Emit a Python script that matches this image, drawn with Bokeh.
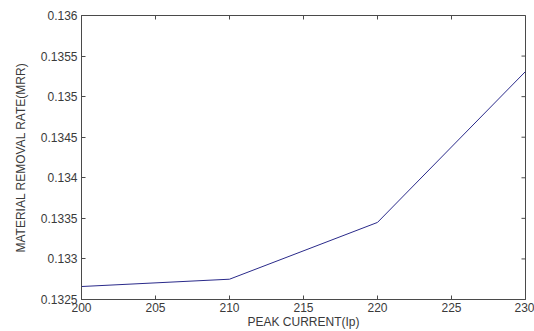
import math
from bokeh.plotting import figure
from bokeh.models import LinearAxis, FixedTicker, Range1d
from bokeh.embed import file_html
from bokeh.resources import INLINE

peak_current = [200, 210, 220, 230]
mrr = [0.13266, 0.13275, 0.13345, 0.13531]
x_ticks = [200, 205, 210, 215, 220, 225, 230]
y_ticks = [0.1325, 0.133, 0.1335, 0.134, 0.1345, 0.135, 0.1355, 0.136]
y_tick_labels = ["0.1325", "0.133", "0.1335", "0.134", "0.1345", "0.135", "0.1355", "0.136"]
x_min, x_max = 200, 230
y_min, y_max = 0.1325, 0.136

FONT = "Liberation Sans"
TXT = "#3a3a3a"
AX = "#4a4a4a"

p = figure(width=534, height=331, output_backend="svg", toolbar_location=None,
           x_range=Range1d(x_min, x_max), y_range=Range1d(y_min, y_max),
           min_border_left=81, min_border_right=9, min_border_top=15, min_border_bottom=32,
           x_axis_location=None, y_axis_location=None)
p.background_fill_color = "white"
p.border_fill_color = "white"
p.outline_line_color = AX
p.outline_line_width = 1
p.grid.visible = False

p.line(peak_current, mrr, line_color="#2a2a8a", line_width=1)

# mirrored inward ticks on top and right edges (box on)
p.scatter(x_ticks, [y_max] * len(x_ticks), marker="dash", size=8, angle=math.pi / 2,
          line_color=AX, line_width=1)
p.scatter([x_max] * len(y_ticks), y_ticks, marker="dash", size=8,
          line_color=AX, line_width=1)

def style(ax):
    ax.major_tick_in = 4
    ax.major_tick_out = 0
    ax.minor_tick_in = 0
    ax.minor_tick_out = 0
    ax.axis_line_color = AX
    ax.major_tick_line_color = AX
    ax.major_label_text_font = FONT
    ax.major_label_text_color = TXT
    ax.major_label_text_font_size = "12px"
    ax.axis_label_text_font = FONT
    ax.axis_label_text_color = TXT
    ax.axis_label_text_font_size = "12px"
    ax.axis_label_text_font_style = "normal"

xb = LinearAxis(ticker=FixedTicker(ticks=x_ticks), axis_label="PEAK CURRENT(Ip)")
style(xb)
xb.major_label_standoff = 3
xb.axis_label_standoff = 0
p.add_layout(xb, "below")

yl = LinearAxis(ticker=FixedTicker(ticks=y_ticks), axis_label="MATERIAL REMOVAL RATE(MRR)")
style(yl)
yl.major_label_overrides = {t: s for t, s in zip(y_ticks, y_tick_labels)}
yl.major_label_standoff = 4
yl.axis_label_standoff = 10
p.add_layout(yl, "left")

open("out.html", "w").write(file_html(p, INLINE))
